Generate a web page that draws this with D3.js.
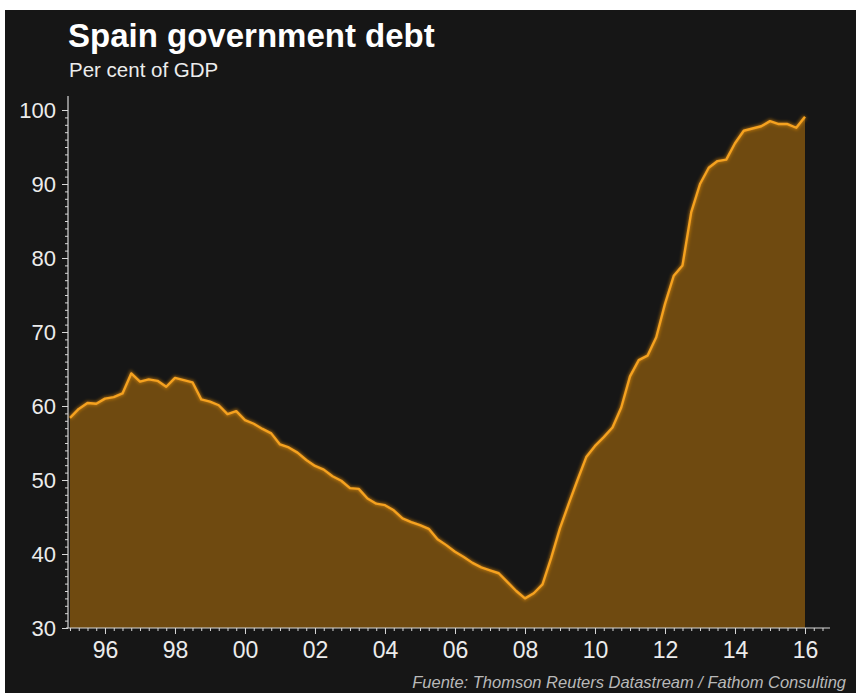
<!DOCTYPE html>
<html>
<head>
<meta charset="utf-8">
<script src="https://cdn.jsdelivr.net/npm/d3@7"></script>
<style>
  html, body { margin: 0; padding: 0; background: #ffffff; }
  svg { display: block; }
</style>
</head>
<body>
<svg id="chart" width="856" height="693"></svg>
<script>
// Quarterly periods (year, quarter)
const quarters = [
  "1995Q1","1995Q2","1995Q3","1995Q4","1996Q1","1996Q2","1996Q3","1996Q4",
  "1997Q1","1997Q2","1997Q3","1997Q4","1998Q1","1998Q2","1998Q3","1998Q4",
  "1999Q1","1999Q2","1999Q3","1999Q4","2000Q1","2000Q2","2000Q3","2000Q4",
  "2001Q1","2001Q2","2001Q3","2001Q4","2002Q1","2002Q2","2002Q3","2002Q4",
  "2003Q1","2003Q2","2003Q3","2003Q4","2004Q1","2004Q2","2004Q3","2004Q4",
  "2005Q1","2005Q2","2005Q3","2005Q4","2006Q1","2006Q2","2006Q3","2006Q4",
  "2007Q1","2007Q2","2007Q3","2007Q4","2008Q1","2008Q2","2008Q3","2008Q4",
  "2009Q1","2009Q2","2009Q3","2009Q4","2010Q1","2010Q2","2010Q3","2010Q4",
  "2011Q1","2011Q2","2011Q3","2011Q4","2012Q1","2012Q2","2012Q3","2012Q4",
  "2013Q1","2013Q2","2013Q3","2013Q4","2014Q1","2014Q2","2014Q3","2014Q4",
  "2015Q1","2015Q2","2015Q3","2015Q4","2016Q1"
];

// Government debt, per cent of GDP
const debt = [
  58.4, 59.6, 60.4, 60.3, 61.0, 61.2, 61.7, 64.4,
  63.3, 63.6, 63.4, 62.6, 63.8, 63.5, 63.2, 60.9,
  60.6, 60.1, 58.9, 59.3, 58.1, 57.6, 56.9, 56.3,
  54.8, 54.4, 53.7, 52.7, 51.9, 51.4, 50.5, 49.9,
  48.9, 48.8, 47.5, 46.8, 46.6, 45.9, 44.8, 44.3,
  43.9, 43.4, 42.0, 41.2, 40.3, 39.6, 38.8, 38.2,
  37.8, 37.4, 36.2, 35.0, 34.0, 34.7, 35.9, 39.5,
  43.5, 46.8, 50.0, 53.1, 54.6, 55.8, 57.1, 59.8,
  64.0, 66.2, 66.8, 69.3, 73.8, 77.6, 79.0, 86.2,
  90.0, 92.2, 93.1, 93.3, 95.5, 97.2, 97.5, 97.8,
  98.5, 98.1, 98.1, 97.6, 99.1
];

// Axis labels
const yTicks = [30, 40, 50, 60, 70, 80, 90, 100];
const xTickYears = [1996, 1998, 2000, 2002, 2004, 2006, 2008, 2010, 2012, 2014, 2016];

const titleText = "Spain government debt";
const subtitleText = "Per cent of GDP";
const sourceText = "Fuente: Thomson Reuters Datastream / Fathom Consulting";

const svg = d3.select("#chart");
const W = 856, H = 693;

const colors = {
  bg: "#161616",
  fill: "#6f4a10",
  line: "#f5a21f",
  text: "#ececec",
  axis: "#d8d8d8",
  source: "#b9b9b9"
};

// Dark panel
svg.append("rect")
  .attr("x", 5).attr("y", 10)
  .attr("width", W - 5).attr("height", H - 10)
  .attr("fill", colors.bg);

const toYear = q => +q.slice(0, 4) + (+q.slice(5) - 1) / 4;
const series = quarters.map((q, i) => ({ t: toYear(q), v: debt[i] }));

const x = d3.scaleLinear().domain([1994.943, 2016.657]).range([68, 828]);
const y = d3.scaleLinear().domain([30, 100]).range([628, 110]);

// Area under the curve
const area = d3.area()
  .x(d => x(d.t))
  .y0(y(30))
  .y1(d => y(d.v));

svg.append("path")
  .datum(series)
  .attr("d", area)
  .attr("fill", colors.fill);

// Soft glow under the line
const defs = svg.append("defs");
const glow = defs.append("filter").attr("id", "glow")
  .attr("x", "-5%").attr("y", "-5%").attr("width", "110%").attr("height", "110%");
glow.append("feGaussianBlur").attr("stdDeviation", 1.6);

const line = d3.line()
  .x(d => x(d.t))
  .y(d => y(d.v));

svg.append("path")
  .datum(series)
  .attr("d", line)
  .attr("fill", "none")
  .attr("stroke", "#e08a10")
  .attr("stroke-width", 4.5)
  .attr("stroke-opacity", 0.55)
  .attr("filter", "url(#glow)");

svg.append("path")
  .datum(series)
  .attr("d", line)
  .attr("fill", "none")
  .attr("stroke", colors.line)
  .attr("stroke-width", 2.4)
  .attr("stroke-linejoin", "round");

// Y axis: major ticks every 10, minor every 1
const yMinor = d3.range(30, 101, 1);
const yAxisMinor = d3.axisLeft(y).tickValues(yMinor).tickSize(3).tickFormat("");
const yAxisG = svg.append("g").attr("transform", "translate(68,0)").call(yAxisMinor);
yAxisG.select(".domain").remove();
yAxisG.selectAll("line").attr("stroke", colors.axis).attr("stroke-width", 1);

const yAxisMajor = d3.axisLeft(y).tickValues(yTicks).tickSize(6).tickPadding(6).tickFormat(d3.format("d"));
const yMajorG = svg.append("g").attr("transform", "translate(68,0)").call(yAxisMajor);
yMajorG.select(".domain").remove();
yMajorG.selectAll("line").attr("stroke", colors.axis);
yMajorG.selectAll("text")
  .attr("fill", colors.text)
  .attr("font-family", "Liberation Sans, Arial, sans-serif")
  .attr("font-size", 22)
  .attr("dy", "0.36em");

svg.append("line")
  .attr("x1", 68).attr("x2", 68)
  .attr("y1", 96).attr("y2", 628)
  .attr("stroke", colors.axis).attr("stroke-width", 1.2);

// X axis: quarterly minor ticks, labels every two years
const xMinor = d3.range(1995, 2016.75, 0.25);
const xAxisMinor = d3.axisBottom(x).tickValues(xMinor).tickSize(3).tickFormat("");
const xMinorG = svg.append("g").attr("transform", "translate(0,628)").call(xAxisMinor);
xMinorG.select(".domain").remove();
xMinorG.selectAll("line").attr("stroke", colors.axis);

const xAxisMajor = d3.axisBottom(x).tickValues(xTickYears).tickSize(6).tickPadding(8)
  .tickFormat(d => String(d % 100).padStart(2, "0"));
const xMajorG = svg.append("g").attr("transform", "translate(0,628)").call(xAxisMajor);
xMajorG.select(".domain").remove();
xMajorG.selectAll("line").attr("stroke", colors.axis);
xMajorG.selectAll("text")
  .attr("fill", colors.text)
  .attr("font-family", "Liberation Sans, Arial, sans-serif")
  .attr("font-size", 23);

svg.append("line")
  .attr("x1", 66).attr("x2", 830)
  .attr("y1", 628).attr("y2", 628)
  .attr("stroke", colors.axis).attr("stroke-width", 1.2);

// Titles
svg.append("text")
  .attr("x", 68).attr("y", 47)
  .attr("fill", "#ffffff")
  .attr("font-family", "Liberation Sans, Arial, sans-serif")
  .attr("font-weight", "bold")
  .attr("font-size", 33)
  .text(titleText);

svg.append("text")
  .attr("x", 69).attr("y", 77)
  .attr("fill", colors.text)
  .attr("font-family", "Liberation Sans, Arial, sans-serif")
  .attr("font-size", 20.5)
  .text(subtitleText);

// Source note
svg.append("text")
  .attr("x", 846).attr("y", 688)
  .attr("text-anchor", "end")
  .attr("fill", colors.source)
  .attr("font-family", "Liberation Sans, Arial, sans-serif")
  .attr("font-style", "italic")
  .attr("font-size", 16.5)
  .text(sourceText);
</script>
</body>
</html>
